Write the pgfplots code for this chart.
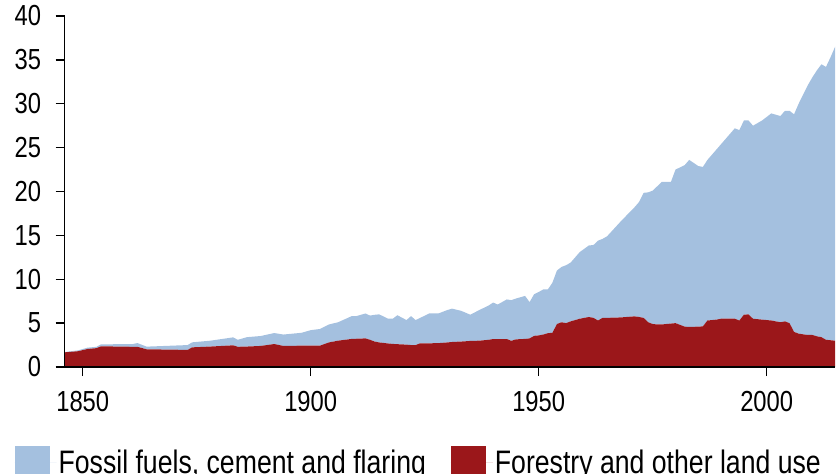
\documentclass[border=0pt]{standalone}
\usepackage{fontspec}
\setmainfont{Liberation Sans}[FakeStretch=0.82]
\usepackage{pgfplots}
\usepackage{pgfplotstable}
\pgfplotsset{compat=1.18}
\definecolor{fossil}{RGB}{164,192,223}
\definecolor{landuse}{RGB}{155,23,26}

% year, forestry and other land use, fossil fuels/cement/flaring (GtCO2/yr)
\pgfplotstableread{
year land fossil
1846 1.67 0.03
1849 1.80 0.10
1851 2.05 0.15
1853 2.15 0.15
1854 2.35 0.23
1858 2.33 0.27
1861 2.30 0.32
1862 2.30 0.43
1864 2.02 0.30
1873 1.95 0.55
1874 2.24 0.57
1878 2.33 0.67
1883 2.47 0.91
1884 2.30 0.80
1886 2.33 1.07
1889 2.40 1.13
1892 2.62 1.25
1894 2.40 1.30
1898 2.43 1.47
1900 2.43 1.77
1902 2.43 1.90
1904 2.80 2.05
1906 3.00 2.10
1909 3.20 2.60
1910 3.22 2.58
1912 3.26 2.84
1913 3.10 2.76
1914 2.90 3.05
1915 2.80 3.20
1917 2.68 2.82
1918 2.63 2.87
1919 2.60 3.30
1921 2.55 2.80
1922 2.50 3.30
1923 2.50 2.85
1924 2.70 2.90
1926 2.70 3.40
1928 2.72 3.38
1930 2.80 3.70
1931 2.85 3.80
1933 2.90 3.50
1935 2.97 2.99
1937 3.00 3.50
1939 3.10 3.90
1940 3.19 4.16
1941 3.19 3.93
1943 3.19 4.51
1944 2.98 4.64
1945 3.15 4.65
1947 3.20 4.90
1948 3.26 4.14
1949 3.55 4.75
1950 3.60 4.95
1951 3.70 5.14
1952 3.85 4.99
1953 3.90 5.70
1954 4.90 6.10
1955 5.10 6.30
1956 5.00 6.60
1957 5.20 6.70
1959 5.50 7.60
1961 5.70 8.15
1962 5.60 8.30
1963 5.30 9.10
1964 5.60 9.00
1965 5.60 9.30
1968 5.65 10.95
1971 5.77 12.43
1972 5.70 13.10
1973 5.60 14.25
1974 5.10 14.80
1975 4.90 15.20
1976 4.85 15.75
1977 4.85 16.25
1979 4.95 16.15
1980 5.00 17.50
1982 4.60 18.40
1983 4.56 19.04
1985 4.60 18.30
1986 4.63 18.17
1987 5.30 18.30
1989 5.40 19.40
1990 5.50 19.90
1993 5.50 21.70
1994 5.30 21.70
1995 5.96 22.14
1996 6.00 22.10
1997 5.50 22.00
1999 5.40 22.70
2001 5.30 23.60
2003 5.10 23.50
2004 5.20 24.00
2005 5.00 24.20
2006 4.00 24.80
2007 3.80 26.20
2009 3.65 28.45
2010 3.65 29.35
2011 3.50 30.30
2012 3.40 31.10
2013 3.10 31.10
2014 3.05 32.25
2015 3.00 33.50
}\emissions

\begin{document}
\begin{tikzpicture}
\begin{axis}[
  at={(64.5bp,-367bp)}, anchor=south west,
  scale only axis,
  width=770.6bp, height=351bp,
  xmin=1846, xmax=2015, ymin=0, ymax=40,
  enlargelimits=false,
  axis x line*=bottom, axis y line*=left,
  axis line style={line width=1.3bp, black},
  tick style={line width=1.3bp, black},
  tick align=outside,
  major tick length=9bp,
  xtick={1850,1900,1950,2000},
  ytick={0,5,...,40},
  minor tick num=0,
  /pgf/number format/assume math mode=true,
  /pgf/number format/1000 sep={},
  ticklabel style={font=\fontsize{29bp}{33bp}\selectfont},
  xticklabel style={yshift=-12bp},
  yticklabel style={xshift=-11bp},
  stack plots=y,
  axis on top,
  legend columns=2,
  reverse legend,
  legend cell align=left,
  legend style={at={(axis description cs:-0.065,-0.272)}, anchor=base west,
    draw=none, fill=none, inner sep=0pt,
    font=\fontsize{32.5bp}{36bp}\selectfont,
    /tikz/every even column/.append style={column sep=23bp}},
  legend image code/.code={\fill[#1] (0bp,-16bp) rectangle (35bp,16bp);
    \path (0bp,0bp) -- (42bp,0bp);},
]
\addplot[fill=landuse, draw=none] table[x=year, y=land] {\emissions} \closedcycle;
\addlegendentry{Forestry and other land use}
\addplot[fill=fossil, draw=none] table[x=year, y=fossil] {\emissions} \closedcycle;
\addlegendentry{Fossil fuels, cement and flaring}
\end{axis}
\pgfresetboundingbox
\useasboundingbox (0bp,0bp) rectangle (836bp,-474bp);
\end{tikzpicture}
\end{document}
